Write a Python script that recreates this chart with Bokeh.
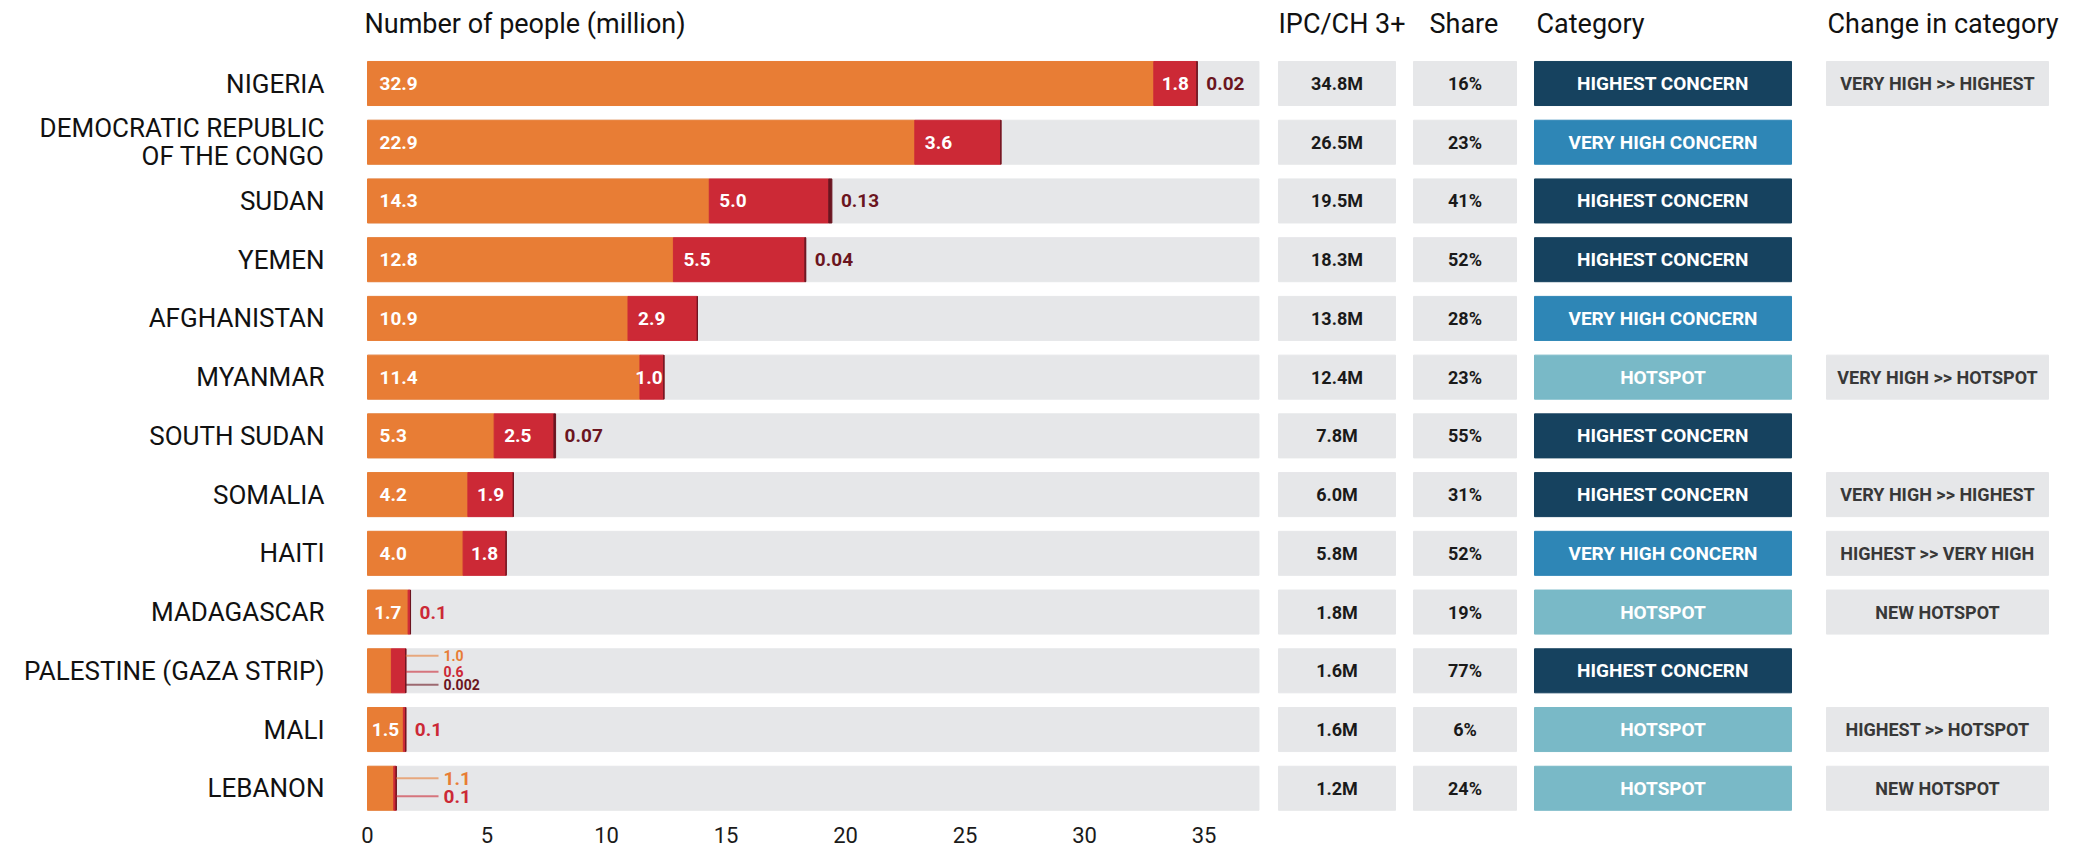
from bokeh.plotting import figure
from bokeh.models import Range1d, FixedTicker
from bokeh.core.properties import value
from bokeh.embed import file_html
from bokeh.resources import INLINE

# ---------------- data ----------------
countries = ["NIGERIA", "DEMOCRATIC REPUBLIC\nOF THE CONGO", "SUDAN", "YEMEN", "AFGHANISTAN",
             "MYANMAR", "SOUTH SUDAN", "SOMALIA", "HAITI", "MADAGASCAR",
             "PALESTINE (GAZA STRIP)", "MALI", "LEBANON"]
phase3 = [32.9, 22.9, 14.3, 12.8, 10.9, 11.4, 5.3, 4.2, 4.0, 1.7, 1.0, 1.5, 1.1]
phase4 = [1.8, 3.6, 5.0, 5.5, 2.9, 1.0, 2.5, 1.9, 1.8, 0.1, 0.6, 0.1, 0.1]
phase5 = [0.02, 0, 0.13, 0.04, 0, 0, 0.07, 0, 0, 0, 0.002, 0, 0]
ipc_total = ["34.8M", "26.5M", "19.5M", "18.3M", "13.8M", "12.4M", "7.8M", "6.0M",
             "5.8M", "1.8M", "1.6M", "1.6M", "1.2M"]
share = ["16%", "23%", "41%", "52%", "28%", "23%", "55%", "31%", "52%", "19%", "77%", "6%", "24%"]
category = ["HIGHEST CONCERN", "VERY HIGH CONCERN", "HIGHEST CONCERN", "HIGHEST CONCERN",
            "VERY HIGH CONCERN", "HOTSPOT", "HIGHEST CONCERN", "HIGHEST CONCERN",
            "VERY HIGH CONCERN", "HOTSPOT", "HIGHEST CONCERN", "HOTSPOT", "HOTSPOT"]
change = ["VERY HIGH >> HIGHEST", "", "", "", "", "VERY HIGH >> HOTSPOT", "",
          "VERY HIGH >> HIGHEST", "HIGHEST >> VERY HIGH", "NEW HOTSPOT", "",
          "HIGHEST >> HOTSPOT", "NEW HOTSPOT"]
axis_ticks = [0, 5, 10, 15, 20, 25, 30, 35]
headers = ["Number of people (million)", "IPC/CH 3+", "Share", "Category", "Change in category"]
callout_rows = ["PALESTINE (GAZA STRIP)", "LEBANON"]

# ---------------- styles / layout ----------------
FONT = value("Roboto")
ORANGE = "#E87D35"
RED = "#CC2936"
DARK = "#6B1520"
GREY = "#E6E7E9"
CAT_COLORS = {"HIGHEST CONCERN": "#16425F", "VERY HIGH CONCERN": "#2E86B6", "HOTSPOT": "#79B9C7"}

W, H = 2069, 851
AXIS_SPACE = 31                     # bottom border reserved for the axis
X0_PX, PPU = 367.0, 23.9           # px of value 0, px per million
ROW0_PX, ROW_PX = 83.0, 58.73      # px of first row centre, row pitch


def px2x(px):
    return (px - X0_PX) / PPU


def py2y(py):
    return (py - ROW0_PX) / ROW_PX


x_start, x_end = px2x(0), px2x(W)
y_top, y_bottom = py2y(0), py2y(H - AXIS_SPACE)

BAR_H = 0.75
BG_END = 37.3
COLS = {  # px extents of table columns
    "ipc": (1278, 1395), "share": (1413, 1516), "cat": (1534, 1791), "chg": (1826, 2048)}
CALLOUT_X = px2x(438)

p = figure(width=W, height=H, output_backend="svg", toolbar_location=None,
           x_range=Range1d(x_start, x_end), y_range=Range1d(y_bottom, y_top),
           y_axis_location=None, min_border=0, min_border_bottom=AXIS_SPACE,
           outline_line_color=None, background_fill_color="white", border_fill_color="white")
p.grid.visible = False

ax = p.xaxis[0]
ax.ticker = FixedTicker(ticks=axis_ticks)
ax.axis_line_color = None
ax.major_tick_line_color = None
ax.minor_tick_line_color = None
ax.major_tick_out = 0
ax.major_label_text_font = "Roboto"
ax.major_label_text_font_size = "22px"
ax.major_label_text_color = "#1a1a1a"
ax.major_label_standoff = 6

n = len(countries)
rows = list(range(n))
totals = [a + b + c for a, b, c in zip(phase3, phase4, phase5)]
p34 = [a + b for a, b in zip(phase3, phase4)]

# background bars
p.hbar(y=rows, left=0, right=BG_END, height=BAR_H, color=GREY)
# stacked bars
p.hbar(y=rows, left=0, right=phase3, height=BAR_H, color=ORANGE)
p.hbar(y=rows, left=phase3, right=p34, height=BAR_H, color=RED)
p.hbar(y=rows, left=p34, right=totals, height=BAR_H, color=DARK)

# table boxes
for key in ("ipc", "share"):
    l, r = COLS[key]
    p.hbar(y=rows, left=px2x(l), right=px2x(r), height=BAR_H, color=GREY)
l, r = COLS["cat"]
p.hbar(y=rows, left=px2x(l), right=px2x(r), height=BAR_H,
       color=[CAT_COLORS[c] for c in category])
chg_rows = [i for i in rows if change[i]]
l, r = COLS["chg"]
p.hbar(y=chg_rows, left=px2x(l), right=px2x(r), height=BAR_H, color=GREY)


def col_mid(key):
    l, r = COLS[key]
    return px2x((l + r) / 2)


p.text(x=[col_mid("ipc")] * n, y=rows, text=ipc_total, text_font=FONT, text_font_style="bold",
       text_font_size="18px", text_color="#1a1a1a", text_align="center", text_baseline="middle")
p.text(x=[col_mid("share")] * n, y=rows, text=share, text_font=FONT, text_font_style="bold",
       text_font_size="18px", text_color="#1a1a1a", text_align="center", text_baseline="middle")
p.text(x=[col_mid("cat")] * n, y=rows, text=category, text_font=FONT, text_font_style="bold",
       text_font_size="19px", text_color="white", text_align="center", text_baseline="middle")
p.text(x=[col_mid("chg")] * len(chg_rows), y=chg_rows, text=[change[i] for i in chg_rows],
       text_font=FONT, text_font_style="bold", text_font_size="18px", text_color="#383838",
       text_align="center", text_baseline="middle")

# country labels
p.text(x=[px2x(324)] * n, y=rows, text=countries, text_font=FONT, text_font_size="26px",
       text_color="#111111", text_align="right", text_baseline="middle", text_line_height=0.95)

# headers
hx = [px2x(364), px2x(1278), px2x(1429), px2x(1536), px2x(1827)]
p.text(x=hx, y=[py2y(23)] * len(headers), text=headers, text_font=FONT, text_font_size="27px",
       text_color="#111111", text_align="left", text_baseline="middle")

# bar value labels
groups = {}


def add(key, x, y, t, xo=0):
    g = groups.setdefault(key, dict(x=[], y=[], text=[], xo=[]))
    g["x"].append(x); g["y"].append(y); g["text"].append(t); g["xo"].append(xo)


lead_x0, lead_x1, lead_y, lead_c = [], [], [], []
for i in rows:
    a, b, c, t = phase3[i], phase4[i], phase5[i], totals[i]
    if countries[i] in callout_rows:
        vals = [(a, ORANGE, f"{a:.1f}"), (b, RED, f"{b:.1f}")]
        if c > 0:
            vals.append((c, DARK, f"{c:g}"))
        if len(vals) == 3:
            offs, size = [-15, 1, 14], "14px"
        else:
            offs, size = [-10, 8], "19px"
        for (v, col, s), o in zip(vals, offs):
            yy = i + o / ROW_PX
            lead_x0.append(t); lead_x1.append(CALLOUT_X); lead_y.append(yy); lead_c.append(col)
            add(("callout", col, size, "left"), CALLOUT_X, yy, s, 5)
        continue
    # phase 3
    if a >= 2.5:
        add(("in", "white", "left"), 0, i, f"{a:.1f}", 12)
    else:
        add(("in", "white", "center"), a / 2, i, f"{a:.1f}")
    # phase 4
    if b >= 2.5:
        add(("in", "white", "left"), a, i, f"{b:.1f}", 10)
    elif b >= 0.9:
        add(("in", "white", "center"), a + b / 2, i, f"{b:.1f}", -3 if b < 1.2 else 0)
    else:
        add(("out", RED, "left"), t, i, f"{b:.1f}", 9)
    # phase 5
    if c > 0:
        add(("out", DARK, "left"), t, i, f"{c:g}", 9)

p.segment(x0=lead_x0, y0=lead_y, x1=lead_x1, y1=lead_y, line_color=lead_c, line_width=2,
          line_alpha=0.6)

for key, g in groups.items():
    if key[0] == "callout":
        _, col, size, align = key
    else:
        _, col, align = key
        size = "19px"
    p.text(x=g["x"], y=g["y"], text=g["text"], x_offset=g["xo"],
           text_font=FONT, text_font_style="bold", text_font_size=size, text_color=col,
           text_align=align, text_baseline="middle")

open("out.html", "w").write(file_html(p, INLINE))
